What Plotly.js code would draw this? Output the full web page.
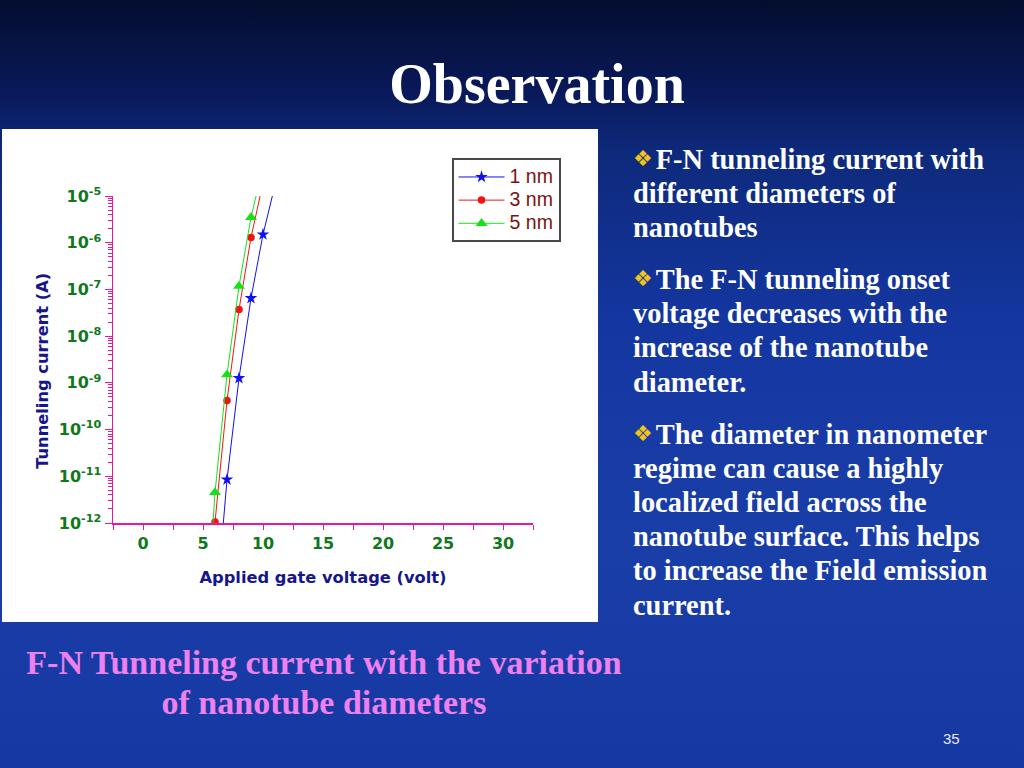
<!DOCTYPE html>
<html>
<head>
<meta charset="utf-8">
<script src="https://cdn.plot.ly/plotly-3.0.1.min.js"></script>
<style>
  html, body { margin:0; padding:0; }
  body {
    width:1024px; height:768px; overflow:hidden; position:relative;
    background-color:#1537a0;
    font-family: "Liberation Serif", "Times New Roman", serif;
  }
  #bg { position:absolute; left:0; top:0; width:1024px; height:768px;
    background: linear-gradient(180deg, #040d2e 0%, #09195a 12%, #0e2a7c 20%, #1436a0 42%, #1a3ea8 70%, #1638a2 100%); }
  #title { position:absolute; left:0; width:1074px; text-align:center; top:52px;
    font-size:56px; font-weight:bold; color:#fff; line-height:64px; }
  #chart { position:absolute; left:2px; top:129px; width:596px; height:493px; background:#fff; }
  #bullets { position:absolute; left:633px; top:141.5px; width:390px; color:#fff;
    font-size:28.4px; font-weight:bold; line-height:34.2px; }
  #bullets p { margin:0 0 16.8px 0; white-space:nowrap; }
  .b { font-family:"DejaVu Sans", sans-serif; color:#f2c418; font-size:22px; font-weight:normal; vertical-align:3px; margin-right:3px; }
  #caption { position:absolute; left:0; width:648px; text-align:center; top:643px;
    font-size:34px; font-weight:bold; color:#ef80ef; line-height:40px; }
  #num { position:absolute; left:943px; top:730px; font-family:"Liberation Sans", Arial, sans-serif;
    font-size:15px; color:#e8e8f0; }
</style>
</head>
<body>
<div id="bg"></div>
<div id="title">Observation</div>
<div id="chart"></div>
<div id="bullets">
  <p><span class="b">&#x2756;</span>F-N tunneling current with<br>different diameters of<br>nanotubes</p>
  <p><span class="b">&#x2756;</span>The F-N tunneling onset<br>voltage decreases with the<br>increase of the nanotube<br>diameter.</p>
  <p><span class="b">&#x2756;</span>The diameter in nanometer<br>regime can cause a highly<br>localized field across the<br>nanotube surface. This helps<br>to increase the Field emission<br>current.</p>
</div>
<div id="caption">F-N Tunneling current with the variation<br>of nanotube diameters</div>
<div id="num">35</div>
<script>
// Gate voltage (V) and tunneling current (A) for each nanotube diameter
const voltage1nm = [6, 7, 8, 9, 10, 11];
const current1nm = [8e-15, 8.5e-12, 1.26e-9, 6.5e-8, 1.5e-6, 1.7e-5];
const voltage3nm = [5, 6, 7, 8, 9, 10];
const current3nm = [1e-15, 1.05e-12, 4.2e-10, 3.7e-8, 1.3e-6, 1.9e-5];
const voltage5nm = [5, 6, 7, 8, 9, 10];
const current5nm = [6e-16, 4.5e-12, 1.5e-9, 1.17e-7, 3.5e-6, 4.2e-5];
const seriesNames = ['1 nm', '3 nm', '5 nm'];
const yTickVals = [1e-12, 1e-11, 1e-10, 1e-9, 1e-8, 1e-7, 1e-6, 1e-5];
const yTickText = ['10<sup>-12</sup>', '10<sup>-11</sup>', '10<sup>-10</sup>', '10<sup>-9</sup>',
                   '10<sup>-8</sup>', '10<sup>-7</sup>', '10<sup>-6</sup>', '10<sup>-5</sup>'];

const minorVals = [];
for (let e = -12; e < -5; e++) for (let m = 2; m <= 9; m++) minorVals.push(m * Math.pow(10, e));

const axisColor = '#e8189a';
const tickFont = {family:'DejaVu Sans, Verdana, sans-serif', size:16, color:'#10781c', weight:'bold'};
const titleFont = {family:'DejaVu Sans, Verdana, sans-serif', size:16.3, color:'#16168a', weight:'bold'};
const legendName = n => '<span style="font-size:19.5px">' + n + '</span>';

const traces = [
  {x: voltage1nm, y: current1nm, name: legendName(seriesNames[0]), mode:'lines+markers',
   line:{color:'#1010f0', width:1}, marker:{symbol:'star', size:9.5, color:'#1010f0'}},
  {x: voltage3nm, y: current3nm, name: legendName(seriesNames[1]), mode:'lines+markers',
   line:{color:'#f01414', width:1}, marker:{symbol:'circle', size:7.5, color:'#f01414'}},
  {x: voltage5nm, y: current5nm, name: legendName(seriesNames[2]), mode:'lines+markers',
   line:{color:'#18e018', width:1}, marker:{symbol:'triangle-up', size:10.5, color:'#18e018'}}
];

const layout = {
  width:596, height:493,
  margin:{l:111, r:65, t:67, b:99},
  paper_bgcolor:'#ffffff', plot_bgcolor:'#ffffff',
  showlegend:true,
  legend:{x:0.806, y:1.115, xanchor:'left', yanchor:'top', bgcolor:'#ffffff',
          bordercolor:'#484848', borderwidth:2, itemwidth:46,
          font:{family:'Liberation Sans, Arial, sans-serif', size:15.5, color:'#7a1212'}},
  xaxis:{type:'linear', range:[-2.5, 32.5], tickmode:'linear', tick0:0, dtick:5,
         ticks:'outside', ticklen:5, tickwidth:1, tickcolor:axisColor,
         showline:true, linecolor:axisColor, linewidth:1.5, showgrid:false, zeroline:false,
         minor:{tick0:-2.5, dtick:2.5, ticks:'outside', ticklen:5, tickwidth:1, tickcolor:axisColor, showgrid:false},
         tickfont:tickFont,
         title:{text:'Applied gate voltage (volt)', font:titleFont, standoff:20}},
  yaxis:{type:'log', range:[-12, -5], tickmode:'array', tickvals:yTickVals, ticktext:yTickText,
         ticks:'outside', ticklen:7, tickwidth:1, tickcolor:axisColor,
         showline:true, linecolor:axisColor, linewidth:1.5, showgrid:false, zeroline:false,
         minor:{tickmode:'array', tickvals:minorVals, ticks:'outside', ticklen:4, tickwidth:1, tickcolor:axisColor, showgrid:false},
         tickfont:tickFont,
         title:{text:'Tunneling current (A)&nbsp;&nbsp;&nbsp;&nbsp;', font:titleFont, standoff:6}}
};

Plotly.newPlot('chart', traces, layout, {displayModeBar:false, staticPlot:true});
</script>
</body>
</html>
